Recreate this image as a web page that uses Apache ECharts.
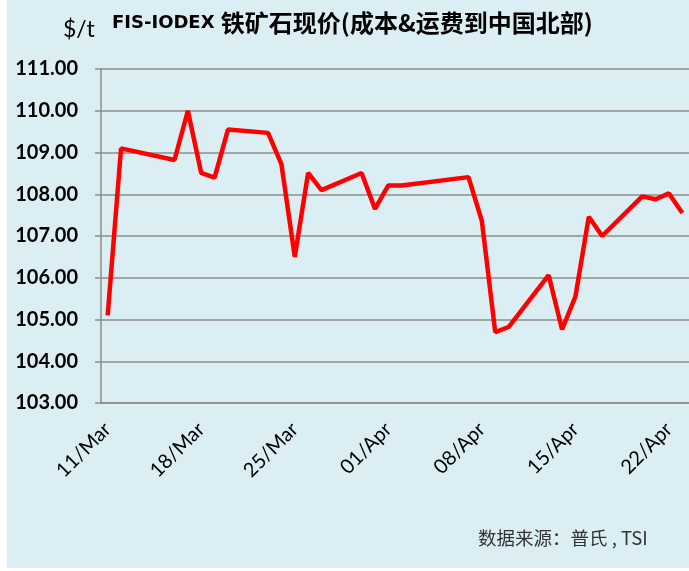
<!DOCTYPE html>
<html>
<head>
<meta charset="utf-8">
<script src="https://cdn.jsdelivr.net/npm/echarts@6/dist/echarts.min.js"></script>
<style>
  html, body { margin: 0; padding: 0; background: #ffffff; }
  #main { position: absolute; left: 7px; top: 0; width: 682px; height: 568px; }
</style>
</head>
<body>
<div id="main"></div>
<script>
// 日期：11/Mar - 23/Apr，每天一个类目（周末/假期为空值）
var days = [
  '11/Mar', '12/Mar', '13/Mar', '14/Mar', '15/Mar', '16/Mar', '17/Mar',
  '18/Mar', '19/Mar', '20/Mar', '21/Mar', '22/Mar', '23/Mar', '24/Mar',
  '25/Mar', '26/Mar', '27/Mar', '28/Mar', '29/Mar', '30/Mar', '31/Mar',
  '01/Apr', '02/Apr', '03/Apr', '04/Apr', '05/Apr', '06/Apr', '07/Apr',
  '08/Apr', '09/Apr', '10/Apr', '11/Apr', '12/Apr', '13/Apr', '14/Apr',
  '15/Apr', '16/Apr', '17/Apr', '18/Apr', '19/Apr', '20/Apr', '21/Apr',
  '22/Apr', '23/Apr'
]
// 现价 $/t
var prices = [
  105.10, 109.10, null, null, null, 108.82, 110.00,
  108.51, 108.40, 109.55, null, null, 109.47, 108.72,
  106.50, 108.51, 108.10, null, null, 108.51, 107.65,
  108.21, 108.21, null, null, null, null, 108.41,
  107.36, 104.70, 104.82, null, null, 106.06, 104.76,
  105.55, 107.46, 107.00, null, null, 107.95, 107.88,
  108.02, 107.55
]
var yMin = 103, yMax = 111, yStep = 1

var myChart = echarts.init(document.getElementById('main'))
var option = {
  backgroundColor: '#daeef3',
  animation: false,
  title: {
    text: '{a|FIS-IODEX }{b|铁矿石现价(成本&运费到中国北部)}',
    left: 100,
    top: 4,
    textStyle: {
      rich: {
        a: {
          fontFamily: '"DejaVu Sans"',
          fontWeight: 'bold',
          fontSize: 18,
          lineHeight: 28,
          color: '#000'
        },
        b: {
          fontFamily: '"Noto Sans CJK SC"',
          fontWeight: 'bold',
          fontSize: 24,
          lineHeight: 28,
          color: '#000'
        }
      }
    }
  },
  graphic: [
    {
      type: 'text', left: 56, top: 18,
      style: { text: '$/t', font: '23px Lato', fill: '#000' }
    },
    {
      type: 'text', left: 471, top: 529,
      style: { text: '数据来源：普氏 , TSI', font: '18.5px "Noto Sans CJK SC"', fill: '#333' }
    }
  ],
  grid: { left: 94, top: 69, height: 334, width: 595, containLabel: false },
  xAxis: {
    type: 'category',
    data: days,
    boundaryGap: true,
    axisLine: { lineStyle: { color: '#8c8c8c', width: 1.5 } },
    axisTick: { show: false },
    axisLabel: {
      interval: 6,
      rotate: 45,
      margin: 23,
      fontFamily: 'Lato',
      fontSize: 20,
      color: '#000'
    }
  },
  yAxis: {
    type: 'value',
    min: yMin,
    max: yMax,
    interval: yStep,
    axisLine: { show: true, lineStyle: { color: '#8c8c8c', width: 1.5 } },
    axisTick: { show: true, length: 6, lineStyle: { color: '#8c8c8c', width: 1.5 } },
    splitLine: { lineStyle: { color: '#8c8c8c', width: 1.5 } },
    axisLabel: {
      margin: 23,
      fontFamily: 'Lato',
      fontWeight: 'bold',
      fontSize: 20,
      color: '#000',
      formatter: function (v) { return v.toFixed(2) }
    }
  },
  series: [
    {
      type: 'line',
      data: prices,
      connectNulls: true,
      symbol: 'none',
      lineStyle: { color: '#ff0000', width: 4.5 }
    }
  ]
}
myChart.setOption(option)
</script>
</body>
</html>
